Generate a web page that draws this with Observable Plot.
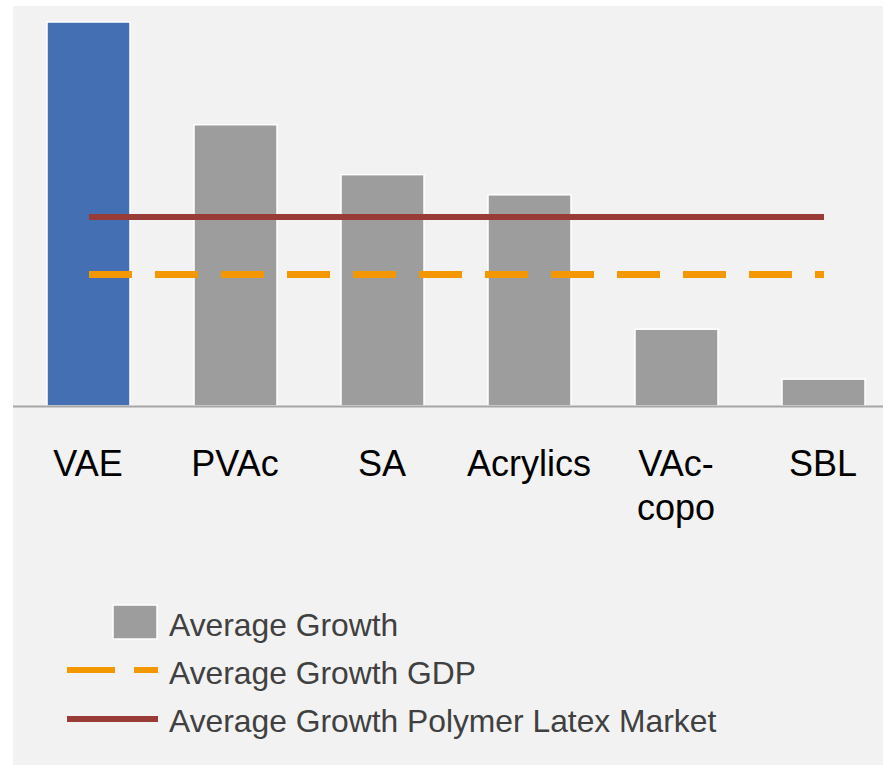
<!DOCTYPE html>
<html>
<head>
<meta charset="utf-8">
<script src="https://cdn.jsdelivr.net/npm/d3@7"></script>
<script src="https://cdn.jsdelivr.net/npm/@observablehq/plot@0.6"></script>
<style>
  html, body { margin: 0; padding: 0; background: #ffffff; }
  #wrap { position: absolute; left: 13px; top: 6px; width: 870px; height: 759px; background: #f2f2f2; overflow: hidden; }
  #wrap svg { display: block; background: transparent; }
</style>
</head>
<body>
<div id="wrap"></div>
<script>
// ---- data ----
const categories = ["VAE", "PVAc", "SA", "Acrylics", "VAc-copo", "SBL"];
const tickLabels = ["VAE", "PVAc", "SA", "Acrylics", "VAc-\ncopo", "SBL"];
const averageGrowth = [8.0, 5.86, 4.82, 4.4, 1.6, 0.56];
const gdpGrowth = 2.75;
const latexMarketGrowth = 3.95;
const legendLabels = ["Average Growth", "Average Growth GDP", "Average Growth Polymer Latex Market"];

const COLORS = { highlight: "#4470b3", bar: "#9c9d9c", gdp: "#f39800", latex: "#993c38" };

const bars = categories.map((c, i) => ({ category: c, value: averageGrowth[i], label: tickLabels[i] }));
const gdpLine = categories.map(c => ({ category: c, value: gdpGrowth }));
const latexLine = categories.map(c => ({ category: c, value: latexMarketGrowth }));

const chart = Plot.plot({
  width: 870,
  height: 560,
  marginTop: 0, marginBottom: 0, marginLeft: 0, marginRight: 0,
  style: { background: "transparent", fontFamily: "'Liberation Sans', Arial, sans-serif", overflow: "hidden" },
  x: { domain: categories, range: [2, 884], paddingInner: 0.435, paddingOuter: 0.2175, axis: null },
  y: { domain: [0, 8], range: [400, 16], axis: null },
  marks: [
    Plot.barY(bars, {
      x: "category", y: "value",
      fill: d => d.category === "VAE" ? COLORS.highlight : COLORS.bar,
      stroke: "#ffffff", strokeWidth: 1.5
    }),
    Plot.ruleY([0], { stroke: "#a6a6a6", strokeWidth: 2 }),
    Plot.lineY(latexLine, { x: "category", y: "value", stroke: COLORS.latex, strokeWidth: 6, strokeLinecap: "butt" }),
    Plot.lineY(gdpLine, { x: "category", y: "value", stroke: COLORS.gdp, strokeWidth: 7, strokeLinecap: "butt", strokeDasharray: "43,23" }),
    Plot.text(bars, {
      x: "category", y: () => 0, text: "label", dx: -1,
      lineAnchor: "top", dy: 39, fontSize: 36, lineHeight: 1.21, fill: "#000000"
    })
  ]
});
document.getElementById("wrap").appendChild(chart);

// ---- legend ----
const lg = d3.select("#wrap").append("svg")
  .attr("width", 870).attr("height", 199)
  .style("font-family", "'Liberation Sans', Arial, sans-serif");

const rows = [70, 118, 166];
lg.append("rect").attr("x", 100).attr("y", 39).attr("width", 44).attr("height", 34)
  .attr("fill", COLORS.bar).attr("stroke", "#ffffff").attr("stroke-width", 1.5);
lg.append("line").attr("x1", 54).attr("x2", 145).attr("y1", 104).attr("y2", 104)
  .attr("stroke", COLORS.gdp).attr("stroke-width", 6).attr("stroke-dasharray", "48,19");
lg.append("line").attr("x1", 54).attr("x2", 145).attr("y1", 153).attr("y2", 153)
  .attr("stroke", COLORS.latex).attr("stroke-width", 6);
legendLabels.forEach((t, i) => {
  lg.append("text").attr("x", 156).attr("y", rows[i])
    .attr("font-size", 31.8).attr("fill", "#404040").text(t);
});
</script>
</body>
</html>
